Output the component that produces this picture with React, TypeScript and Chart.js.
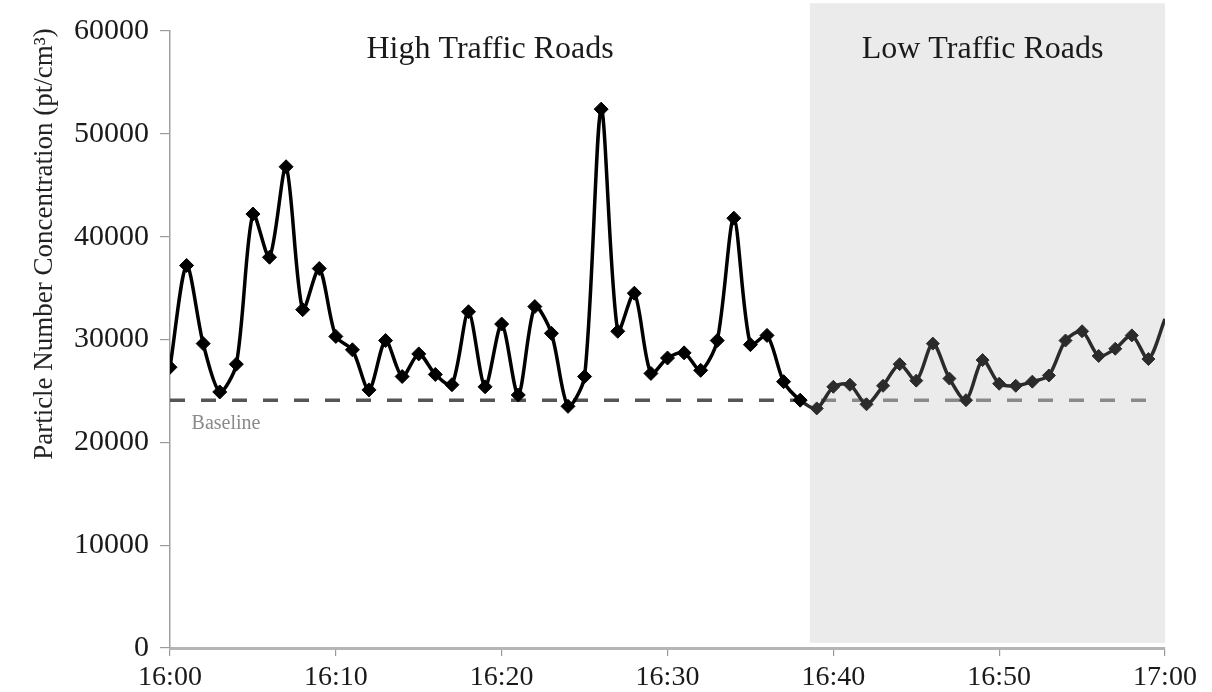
import { useEffect, useRef } from "react";
import { Chart, registerables } from "chart.js";

Chart.register(...registerables);

// ---- Data ----
const TIMES = [
  "16:00", "16:01", "16:02", "16:03", "16:04", "16:05", "16:06", "16:07", "16:08", "16:09",
  "16:10", "16:11", "16:12", "16:13", "16:14", "16:15", "16:16", "16:17", "16:18", "16:19",
  "16:20", "16:21", "16:22", "16:23", "16:24", "16:25", "16:26", "16:27", "16:28", "16:29",
  "16:30", "16:31", "16:32", "16:33", "16:34", "16:35", "16:36", "16:37", "16:38", "16:39",
  "16:40", "16:41", "16:42", "16:43", "16:44", "16:45", "16:46", "16:47", "16:48", "16:49",
  "16:50", "16:51", "16:52", "16:53", "16:54", "16:55", "16:56", "16:57", "16:58", "16:59",
  "17:00",
];

const CONCENTRATION = [
  27300, 37200, 29600, 24900, 27600, 42200, 38000, 46800, 32900, 36900,
  30300, 29000, 25100, 29900, 26400, 28600, 26600, 25600, 32700, 25400,
  31500, 24600, 33200, 30600, 23500, 26400, 52400, 30800, 34500, 26700,
  28200, 28700, 27000, 29900, 41800, 29500, 30400, 25900, 24100, 23300,
  25400, 25600, 23700, 25500, 27600, 26000, 29600, 26200, 24100, 28000,
  25700, 25500, 25900, 26500, 29900, 30800, 28400, 29100, 30400, 28100,
  32000,
];

const X_TICK_LABELS = ["16:00", "16:10", "16:20", "16:30", "16:40", "16:50", "17:00"];
const Y_MIN = 0;
const Y_MAX = 60000;
const Y_STEP = 10000;

const BASELINE_VALUE = 24100;
const BASELINE_LABEL = "Baseline";
const LOW_TRAFFIC_START = "16:38:35";
const REGION_LABELS = ["High Traffic Roads", "Low Traffic Roads"];
const REGION_LABEL_TIMES = ["16:19:18", "16:49:00"];
const REGION_LABEL_VALUE = 58150;
const Y_TITLE = "Particle Number Concentration (pt/cm\u00B3)";

const SERIF = "'Liberation Serif', 'Times New Roman', serif";

function toMinutes(t: string): number {
  const parts = t.split(":").map(Number);
  return (parts[0] - 16) * 60 + parts[1] + (parts[2] || 0) / 60;
}

function fromMinutes(m: number): string {
  const h = 16 + Math.floor(m / 60);
  const mm = Math.round(m % 60);
  return `${h}:${mm < 10 ? "0" + mm : mm}`;
}

const LOW_IDX = TIMES.findIndex((t) => toMinutes(t) >= toMinutes(LOW_TRAFFIC_START));

const decorPlugin = {
  id: "decor",
  beforeDatasetsDraw(chart: any) {
    const { ctx, scales } = chart;
    const x = scales.x;
    const y = scales.y;
    const x0 = x.getPixelForValue(toMinutes(LOW_TRAFFIC_START));
    const x1 = x.getPixelForValue(toMinutes(TIMES[TIMES.length - 1]));
    const yTop = y.getPixelForValue(62700);
    const yBot = y.getPixelForValue(500);
    ctx.save();
    ctx.fillStyle = "#ebebeb";
    ctx.fillRect(x0, yTop, x1 - x0, yBot - yTop);

    // baseline dashed line
    const yb = y.getPixelForValue(BASELINE_VALUE);
    const xs = x.getPixelForValue(0);
    const xe = x.getPixelForValue(59.7);
    const drawDash = (clipL: number, clipR: number, color: string) => {
      ctx.save();
      ctx.beginPath();
      ctx.rect(clipL, yb - 10, clipR - clipL, 20);
      ctx.clip();
      ctx.strokeStyle = color;
      ctx.lineWidth = 3.5;
      ctx.setLineDash([15, 16]);
      ctx.beginPath();
      ctx.moveTo(xs, yb);
      ctx.lineTo(xe, yb);
      ctx.stroke();
      ctx.restore();
    };
    drawDash(xs, x0, "#555555");
    drawDash(x0, xe + 1, "#8a8a8a");

    // Baseline text
    ctx.fillStyle = "#8a8a8a";
    ctx.font = `20px ${SERIF}`;
    ctx.textAlign = "left";
    ctx.textBaseline = "middle";
    ctx.fillText(BASELINE_LABEL, x.getPixelForValue(1.3), y.getPixelForValue(21800));
    ctx.restore();
  },
  afterDraw(chart: any) {
    const { ctx, scales } = chart;
    const x = scales.x;
    const y = scales.y;
    ctx.save();
    ctx.fillStyle = "#1a1a1a";
    ctx.font = `32px ${SERIF}`;
    ctx.textAlign = "center";
    ctx.textBaseline = "middle";
    REGION_LABELS.forEach((label, i) => {
      ctx.fillText(
        label,
        x.getPixelForValue(toMinutes(REGION_LABEL_TIMES[i])),
        y.getPixelForValue(REGION_LABEL_VALUE)
      );
    });

    // Y axis title
    ctx.translate(45, 244);
    ctx.rotate(-Math.PI / 2);
    ctx.font = `27px ${SERIF}`;
    ctx.fillStyle = "#222";
    ctx.fillText(Y_TITLE, 0, 0);
    ctx.restore();
  },
};

export default function App() {
  const canvasRef = useRef<HTMLCanvasElement | null>(null);

  useEffect(() => {
    document.body.style.margin = "0";
    const canvas = canvasRef.current;
    if (!canvas) return;

    const data = TIMES.map((t, i) => ({ x: toMinutes(t), y: CONCENTRATION[i] }));
    const pointColors = TIMES.map((_, i) => (i >= LOW_IDX ? "#2b2b2b" : "#000000"));
    const pointRadii = TIMES.map((_, i) => (i === TIMES.length - 1 ? 0 : i >= LOW_IDX ? 6.5 : 7));
    const tickMinutes = X_TICK_LABELS.map(toMinutes);

    const chart = new Chart(canvas, {
      type: "line",
      data: {
        datasets: [
          {
            data,
            borderColor: "#000",
            borderWidth: 3.5,
            tension: 0.28,
            pointStyle: "rectRot",
            pointRadius: pointRadii,
            pointHoverRadius: pointRadii,
            pointBackgroundColor: pointColors,
            pointBorderColor: pointColors,
            pointBorderWidth: 1,
            segment: {
              borderColor: (c: any) => (c.p0DataIndex >= LOW_IDX - 1 ? "#2b2b2b" : "#000000"),
            },
          },
        ],
      },
      options: {
        animation: false,
        responsive: false,
        events: [],
        layout: { padding: { top: 31, right: 47, left: 0, bottom: 0 } },
        plugins: { legend: { display: false }, tooltip: { enabled: false } },
        scales: {
          x: {
            type: "linear",
            min: tickMinutes[0],
            max: tickMinutes[tickMinutes.length - 1],
            afterBuildTicks: (scale: any) => {
              scale.ticks = tickMinutes.map((v) => ({ value: v }));
            },
            afterFit: (scale: any) => {
              scale.height = 44;
            },
            ticks: {
              callback: (v: any) => fromMinutes(Number(v)),
              font: { family: SERIF, size: 28 },
              color: "#1a1a1a",
              padding: 5,
              maxRotation: 0,
              autoSkip: false,
            },
            grid: {
              drawOnChartArea: false,
              drawTicks: true,
              tickLength: 8,
              color: "#9a9a9a",
              lineWidth: 1.2,
            },
            border: { color: "#b5b5b5", width: 3 },
          },
          y: {
            min: Y_MIN,
            max: Y_MAX,
            afterFit: (scale: any) => {
              scale.width = 170;
            },
            ticks: {
              stepSize: Y_STEP,
              callback: (v: any) => String(v),
              font: { family: SERIF, size: 30 },
              color: "#1a1a1a",
              padding: 11,
            },
            grid: {
              drawOnChartArea: false,
              drawTicks: true,
              tickLength: 10,
              color: "#9a9a9a",
              lineWidth: 1.2,
            },
            border: { color: "#a0a0a0", width: 1.5 },
          },
        },
      },
      plugins: [decorPlugin],
    });

    return () => chart.destroy();
  }, []);

  return (
    <div style={{ width: 1212, height: 692, background: "#fff" }}>
      <canvas ref={canvasRef} width={1212} height={692} style={{ display: "block" }} />
    </div>
  );
}
